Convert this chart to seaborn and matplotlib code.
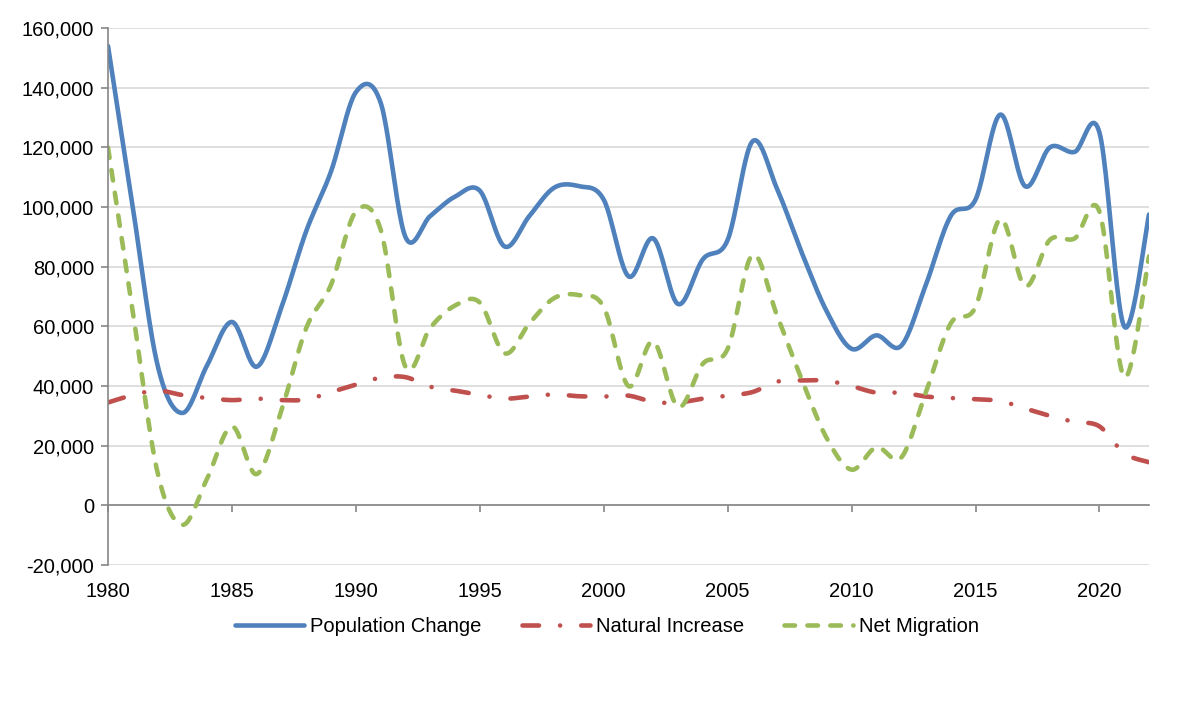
import numpy as np
import pandas as pd
import matplotlib
matplotlib.use("Agg")
import matplotlib.pyplot as plt
import seaborn as sns
from matplotlib.ticker import FuncFormatter

# ---- data (yearly values) ----
years = np.arange(1980, 2023)
population_change = [154000, 100000, 47000, 31000, 47000, 61500, 46500, 66500, 92000, 112000,
                     138500, 135000, 90000, 97000, 103500, 105500, 86800, 97000, 106500, 107000,
                     102500, 76800, 89500, 67500, 82500, 89000, 122000, 106000, 84500, 65000,
                     52500, 57000, 53500, 74000, 97000, 102500, 131000, 107000, 120000, 118500,
                     125000, 60000, 97500]
natural_increase = [34500, 37000, 38500, 37000, 36000, 35300, 35800, 35300, 35500, 38000,
                    40500, 42800, 43000, 39800, 38500, 37000, 35800, 36500, 37200, 36600,
                    36500, 36800, 34700, 34500, 35800, 36800, 38000, 41500, 41900, 41800,
                    40000, 37800, 37800, 36500, 36000, 35600, 35000, 32500, 30000, 28000,
                    26500, 17500, 14500]
net_migration = [120000, 65000, 11000, -6500, 9000, 26500, 10500, 32000, 59500, 74000,
                 98500, 92500, 46500, 59500, 67000, 68000, 51000, 61000, 69500, 70500,
                 66500, 40000, 55000, 33000, 47500, 52500, 84000, 63500, 42000, 22500,
                 12000, 19500, 16000, 38000, 61000, 66500, 96000, 73500, 89000, 89500,
                 98500, 43000, 83500]
series_names = ["Population Change", "Natural Increase", "Net Migration"]
colors = {"Population Change": "#4F81BD", "Natural Increase": "#C0504D", "Net Migration": "#9BBB59"}


def smooth_curve(x, y, steps=24):
    # Excel-style smoothed line: cubic Bezier segments through each yearly point
    x = np.asarray(x, float)
    y = np.asarray(y, float)
    px = np.concatenate([[x[0]], x, [x[-1]]])
    py = np.concatenate([[y[0]], y, [y[-1]]])
    t = np.linspace(0, 1, steps, endpoint=False)
    out_x, out_y = [], []
    for i in range(len(x) - 1):
        p0x, p0y = px[i + 1], py[i + 1]
        p3x, p3y = px[i + 2], py[i + 2]
        c1x = p0x + (p3x - px[i]) / 6
        c1y = p0y + (p3y - py[i]) / 6
        c2x = p3x - (px[i + 3] - p0x) / 6
        c2y = p3y - (py[i + 3] - p0y) / 6
        b0, b1, b2, b3 = (1 - t) ** 3, 3 * t * (1 - t) ** 2, 3 * t ** 2 * (1 - t), t ** 3
        out_x.append(b0 * p0x + b1 * c1x + b2 * c2x + b3 * p3x)
        out_y.append(b0 * p0y + b1 * c1y + b2 * c2y + b3 * p3y)
    out_x.append([x[-1]])
    out_y.append([y[-1]])
    return np.concatenate(out_x), np.concatenate(out_y)


frames = []
for name, vals in zip(series_names, [population_change, natural_increase, net_migration]):
    sx, sy = smooth_curve(years, vals)
    frames.append(pd.DataFrame({"year": sx, "value": sy, "series": name}))
df = pd.concat(frames, ignore_index=True)

sns.set_theme(style="white")
plt.rcParams["font.family"] = ["Liberation Sans", "DejaVu Sans"]
plt.rcParams["lines.dash_capstyle"] = "round"
plt.rcParams["lines.solid_capstyle"] = "round"
plt.rcParams["text.color"] = "black"
plt.rcParams["xtick.labelcolor"] = "black"
plt.rcParams["ytick.labelcolor"] = "black"

fig = plt.figure(figsize=(12, 7.02), dpi=100)
ax = fig.add_axes([0.09, 0.195, 0.8675, 0.765])

sns.lineplot(data=df, x="year", y="value", hue="series", style="series",
             hue_order=series_names, style_order=series_names, palette=colors,
             dashes={"Population Change": "", "Natural Increase": (3.6, 4.6, 0.01, 4.6),
                     "Net Migration": (2.3, 2.7)},
             linewidth=3.3, sort=False, estimator=None, legend=False, ax=ax)
for ln in ax.lines:
    ln.set_dash_capstyle("round")
    ln.set_solid_capstyle("round")

ax.set_xlim(1980, 2022)
ax.set_ylim(-20000, 160000)
ax.set_yticks(np.arange(-20000, 160001, 20000))
ax.yaxis.set_major_formatter(FuncFormatter(lambda v, p: f"{int(v):,}"))
ax.set_xticks(np.arange(1980, 2021, 5))
ax.set_xlabel("")
ax.set_ylabel("")

# light horizontal gridlines
ax.grid(axis="y", color="#d9d9d9", linewidth=1.2)
ax.grid(axis="x", visible=False)

for side in ["top", "right"]:
    ax.spines[side].set_visible(False)
ax.spines["left"].set_color("#868686")
ax.spines["left"].set_linewidth(1.2)
ax.spines["bottom"].set_position(("data", 0))
ax.spines["bottom"].set_color("#868686")
ax.spines["bottom"].set_linewidth(1.2)
ax.spines["bottom"].set_zorder(1.5)

ax.tick_params(axis="y", direction="out", length=5, width=1.2, color="#868686",
               labelsize=14.5, pad=5, left=True, labelcolor="black")
ax.tick_params(axis="x", direction="out", length=5, width=1.2, color="#868686",
               labelsize=14.5, pad=50, bottom=True, labelcolor="black")

handles = ax.lines[:3]
fig.legend(handles, series_names, loc="center", bbox_to_anchor=(0.506, 0.107), ncol=3,
           frameon=False, fontsize=14.5, handlelength=3.4, handletextpad=0.3,
           columnspacing=2.0, labelcolor="black")

fig.savefig("out.png", dpi=100)
